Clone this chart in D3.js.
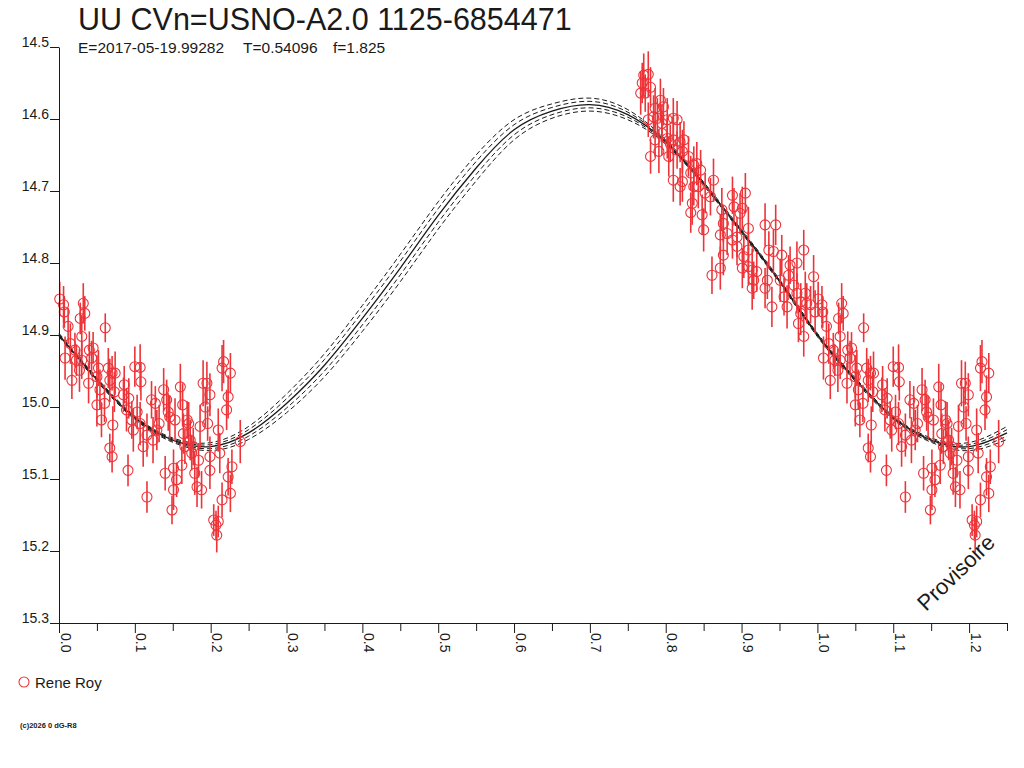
<!DOCTYPE html>
<html>
<head>
<meta charset="utf-8">
<script src="https://cdnjs.cloudflare.com/ajax/libs/d3/7.8.5/d3.min.js"></script>
<style>
  body { margin: 0; background: #fff; }
  text { font-family: "Liberation Sans", Arial, sans-serif; }
</style>
</head>
<body>
<div id="chart"></div>
<script>
const title = "UU CVn=USNO-A2.0 1125-6854471";
const subtitle = ["E=2017-05-19.99282", "T=0.54096", "f=1.825"];
const observer = "Rene Roy";
const footer = "(c)2026 0 dG-R8";
const stamp = "Provisoire";

const xMajorTicks = [0, 0.1, 0.2, 0.3, 0.4, 0.5, 0.6, 0.7, 0.8, 0.9, 1.0, 1.1, 1.2];
const xMinorTicks = [0.05, 0.15, 0.25, 0.35, 0.45, 0.55, 0.65, 0.75, 0.85, 0.95, 1.05, 1.15, 1.25];
const yTicks = [14.5, 14.6, 14.7, 14.8, 14.9, 15.0, 15.1, 15.2, 15.3];

// fitted light curve, read every 0.05 in phase
const modelPhase = [0, 0.05, 0.1, 0.15, 0.2, 0.25, 0.3, 0.35, 0.4, 0.45, 0.5, 0.55, 0.6,
  0.65, 0.7, 0.75, 0.8, 0.85, 0.9, 0.95, 1.0, 1.05, 1.1, 1.15, 1.2, 1.25];
const modelMag = [14.900, 14.962, 15.015, 15.046, 15.055, 15.036, 14.995, 14.942, 14.877,
  14.807, 14.734, 14.668, 14.615, 14.589, 14.580, 14.594, 14.632, 14.690, 14.756, 14.825,
  14.900, 14.962, 15.015, 15.046, 15.055, 15.036];
// spacing of the dashed envelope curves
const modelBand = [0.0012, 0.0012, 0.0012, 0.0015, 0.0028, 0.0045, 0.0065, 0.008, 0.009,
  0.0095, 0.0095, 0.009, 0.007, 0.005, 0.0045, 0.0035, 0.0015, 0.0012, 0.0012, 0.0012,
  0.0012, 0.0012, 0.0012, 0.0015, 0.0028, 0.0045];

// observations [phase, mag, error] ; set A (0 - 0.24) is drawn again at phase + 1
const obsSetA = [
  [0.001,14.850,0.024],[0.006,14.858,0.026],[0.007,14.868,0.022],[0.012,14.888,0.025],
  [0.015,14.912,0.028],[0.008,14.932,0.030],[0.017,14.963,0.026],[0.021,14.921,0.024],
  [0.023,14.935,0.022],[0.027,14.949,0.030],[0.030,14.935,0.026],[0.032,14.856,0.028],
  [0.034,14.870,0.024],[0.028,14.877,0.022],[0.030,14.902,0.030],[0.040,14.921,0.026],
  [0.043,14.932,0.024],[0.039,14.967,0.028],[0.045,14.918,0.022],[0.050,14.958,0.030],
  [0.052,14.946,0.025],[0.054,14.976,0.028],[0.056,15.018,0.024],[0.050,14.997,0.030],
  [0.060,14.995,0.026],[0.061,14.890,0.020],[0.065,14.946,0.028],[0.067,14.963,0.030],
  [0.070,14.953,0.024],[0.071,15.025,0.026],[0.067,15.057,0.020],[0.070,15.069,0.022],
  [0.073,14.979,0.028],[0.074,14.953,0.030],[0.086,14.969,0.026],[0.085,14.983,0.024],
  [0.092,14.988,0.028],[0.089,15.004,0.030],[0.091,15.088,0.022],[0.096,15.018,0.026],
  [0.098,15.032,0.030],[0.100,14.944,0.028],[0.107,14.945,0.032],[0.108,14.965,0.026],
  [0.103,15.007,0.024],[0.107,15.023,0.030],[0.111,15.055,0.028],[0.116,15.125,0.022],
  [0.116,15.039,0.030],[0.122,14.990,0.026],[0.124,15.046,0.032],[0.127,14.995,0.024],
  [0.129,15.032,0.028],[0.132,15.023,0.026],[0.138,14.976,0.030],[0.140,15.092,0.024],
  [0.142,14.990,0.028],[0.144,15.007,0.026],[0.146,15.014,0.030],[0.149,15.143,0.020],
  [0.151,15.085,0.026],[0.151,15.115,0.028],[0.153,15.018,0.030],[0.155,15.101,0.024],
  [0.160,14.972,0.032],[0.162,15.081,0.026],[0.163,14.997,0.030],[0.164,15.037,0.028],
  [0.166,15.055,0.024],[0.169,15.018,0.026],[0.171,15.023,0.030],[0.173,15.046,0.028],
  [0.175,15.064,0.024],[0.177,15.055,0.026],[0.179,15.092,0.030],[0.182,15.111,0.028],
  [0.184,15.074,0.024],[0.186,15.027,0.030],[0.188,15.115,0.026],[0.190,14.967,0.032],
  [0.193,15.000,0.028],[0.195,14.967,0.030],[0.196,15.023,0.024],[0.199,15.088,0.026],
  [0.199,14.983,0.030],[0.199,15.069,0.028],[0.204,15.157,0.022],[0.207,15.164,0.020],
  [0.208,15.178,0.024],[0.210,15.159,0.022],[0.210,15.032,0.030],[0.212,15.064,0.028],
  [0.215,14.946,0.032],[0.217,14.937,0.030],[0.215,15.129,0.024],[0.226,14.953,0.028],
  [0.226,15.120,0.026],[0.223,14.986,0.030],[0.221,15.004,0.028],[0.228,15.083,0.024],
  [0.223,15.097,0.026],[0.239,15.048,0.030]
];
const obsSetB = [
  [0.771,14.539,0.030],[0.777,14.538,0.032],[0.769,14.550,0.028],[0.767,14.564,0.030],
  [0.773,14.564,0.026],[0.780,14.556,0.028],[0.793,14.574,0.030],[0.797,14.583,0.026],
  [0.786,14.585,0.028],[0.784,14.597,0.030],[0.777,14.601,0.024],[0.789,14.599,0.028],
  [0.795,14.606,0.026],[0.802,14.601,0.030],[0.810,14.599,0.028],[0.815,14.601,0.026],
  [0.786,14.629,0.024],[0.795,14.620,0.030],[0.802,14.627,0.028],[0.806,14.634,0.026],
  [0.810,14.629,0.030],[0.819,14.632,0.028],[0.824,14.629,0.026],[0.780,14.652,0.024],
  [0.791,14.645,0.030],[0.804,14.652,0.028],[0.815,14.643,0.026],[0.822,14.645,0.030],
  [0.830,14.652,0.028],[0.837,14.664,0.026],[0.841,14.662,0.030],[0.846,14.671,0.028],
  [0.833,14.675,0.024],[0.810,14.685,0.030],[0.822,14.687,0.028],[0.819,14.694,0.026],
  [0.835,14.717,0.030],[0.833,14.730,0.028],[0.837,14.694,0.026],[0.843,14.694,0.030],
  [0.852,14.703,0.028],[0.863,14.685,0.030],[0.859,14.708,0.026],[0.848,14.733,0.028],
  [0.850,14.754,0.030],[0.888,14.706,0.026],[0.905,14.703,0.028],[0.874,14.726,0.030],
  [0.890,14.722,0.026],[0.898,14.731,0.028],[0.901,14.724,0.030],[0.876,14.745,0.026],
  [0.872,14.761,0.028],[0.881,14.759,0.030],[0.888,14.768,0.026],[0.894,14.764,0.028],
  [0.909,14.752,0.030],[0.894,14.777,0.026],[0.876,14.789,0.028],[0.903,14.791,0.030],
  [0.909,14.782,0.026],[0.931,14.747,0.030],[0.945,14.747,0.028],[0.936,14.782,0.026],
  [0.942,14.784,0.030],[0.953,14.789,0.028],[0.964,14.803,0.026],[0.973,14.800,0.030],
  [0.982,14.782,0.028],[0.861,14.817,0.026],[0.872,14.807,0.030],[0.901,14.807,0.028],
  [0.909,14.805,0.026],[0.914,14.810,0.030],[0.920,14.812,0.028],[0.916,14.824,0.026],
  [0.914,14.835,0.030],[0.931,14.835,0.028],[0.934,14.824,0.026],[0.951,14.824,0.030],
  [0.962,14.817,0.028],[0.969,14.831,0.026],[0.995,14.819,0.030],[0.940,14.861,0.028],
  [0.956,14.847,0.026],[0.960,14.861,0.030],[0.973,14.842,0.028],[0.978,14.854,0.026],
  [0.984,14.842,0.030],[0.986,14.856,0.028],[0.991,14.858,0.026],[0.978,14.870,0.030],
  [0.982,14.902,0.028],[0.975,14.884,0.026],[0.997,14.868,0.030]
];

const width = 1024;
const height = 768;
const red = "#ec3439";
const ink = "#1a1a1a";

const svg = d3.select("#chart")
  .append("svg")
  .attr("width", width)
  .attr("height", height)
  .style("display", "block");

svg.append("rect").attr("width", width).attr("height", height).attr("fill", "#fff");

const x = d3.scaleLinear().domain([0, 1.25]).range([59, 1007]);
const y = d3.scaleLinear().domain([14.5, 15.3]).range([47, 623]);

// title block
svg.append("text")
  .attr("x", 78).attr("y", 30)
  .attr("font-size", 30.5)
  .attr("fill", ink)
  .text(title);

const subX = [78, 243, 333];
svg.append("g").selectAll("text")
  .data(subtitle)
  .join("text")
  .attr("x", (d, i) => subX[i])
  .attr("y", 53)
  .attr("font-size", 15.5)
  .attr("fill", ink)
  .text(d => d);

// model curve + envelope
const line = d3.line()
  .x(d => x(d.p))
  .y(d => y(d.m))
  .curve(d3.curveNatural);

const model = modelPhase.map((p, i) => ({ p: p, m: modelMag[i], b: modelBand[i] }));

const curves = svg.append("g").attr("fill", "none").attr("stroke", ink);
[-2, -1, 1, 2].forEach(k => {
  curves.append("path")
    .attr("d", line(model.map(d => ({ p: d.p, m: d.m + k * d.b }))))
    .attr("stroke-width", 1)
    .attr("stroke-dasharray", "5,3");
});
curves.append("path")
  .attr("d", line(model))
  .attr("stroke-width", 1.3);

// observations
let obs = [];
obsSetA.forEach(d => obs.push({ p: d[0], m: d[1], e: d[2] }));
obsSetA.forEach(d => obs.push({ p: d[0] + 1, m: d[1], e: d[2] }));
obsSetB.forEach(d => obs.push({ p: d[0], m: d[1], e: d[2] }));

const pts = svg.append("g");
pts.selectAll("line")
  .data(obs)
  .join("line")
  .attr("x1", d => x(d.p)).attr("x2", d => x(d.p))
  .attr("y1", d => y(d.m - d.e)).attr("y2", d => y(d.m + d.e))
  .attr("stroke", red)
  .attr("stroke-width", 1.6);
pts.selectAll("circle")
  .data(obs)
  .join("circle")
  .attr("cx", d => x(d.p))
  .attr("cy", d => y(d.m))
  .attr("r", 5)
  .attr("fill", "none")
  .attr("stroke", red)
  .attr("stroke-width", 1.1);

// axes
function yAxis(g) {
  g.attr("transform", `translate(${x(0)},0)`)
    .call(d3.axisLeft(y).tickValues(yTicks).tickSize(9).tickSizeOuter(0)
      .tickFormat(d3.format(".1f")))
    .call(g => g.selectAll("line, path").attr("stroke", ink));
  g.selectAll("text")
    .attr("x", -10).attr("dy", -1)
    .attr("font-size", 14)
    .attr("font-family", "Liberation Sans, Arial, sans-serif")
    .attr("fill", ink);
}

function xAxis(g) {
  g.attr("transform", `translate(0,${y(15.3)})`)
    .call(d3.axisBottom(x).tickValues(xMajorTicks).tickSize(10).tickSizeOuter(0)
      .tickFormat(d3.format(".1f")))
    .call(g => g.selectAll("line, path").attr("stroke", ink));
  g.selectAll("text")
    .attr("x", 0).attr("y", 0).attr("dy", 0)
    .attr("text-anchor", "start")
    .attr("transform", "translate(1,10) rotate(90)")
    .attr("font-size", 14)
    .attr("font-family", "Liberation Sans, Arial, sans-serif")
    .attr("fill", ink);
}

function xMinor(g) {
  g.attr("transform", `translate(0,${y(15.3)})`)
    .call(d3.axisBottom(x).tickValues(xMinorTicks).tickSize(8).tickSizeOuter(0)
      .tickFormat(""))
    .call(g => g.select(".domain").remove())
    .call(g => g.selectAll("line").attr("stroke", ink));
}

svg.append("g").call(yAxis);
svg.append("g").call(xAxis);
svg.append("g").call(xMinor);

// legend
svg.append("circle")
  .attr("cx", 24).attr("cy", 682).attr("r", 5)
  .attr("fill", "none").attr("stroke", red).attr("stroke-width", 1.1);
svg.append("text")
  .attr("x", 35).attr("y", 688)
  .attr("font-size", 15)
  .attr("fill", ink)
  .text(observer);

svg.append("text")
  .attr("x", 20).attr("y", 728)
  .attr("font-size", 7.5)
  .attr("font-weight", "bold")
  .attr("fill", ink)
  .text(footer);

svg.append("text")
  .attr("transform", "translate(926,612) rotate(-44)")
  .attr("font-size", 22)
  .attr("fill", ink)
  .text(stamp);
</script>
</body>
</html>
